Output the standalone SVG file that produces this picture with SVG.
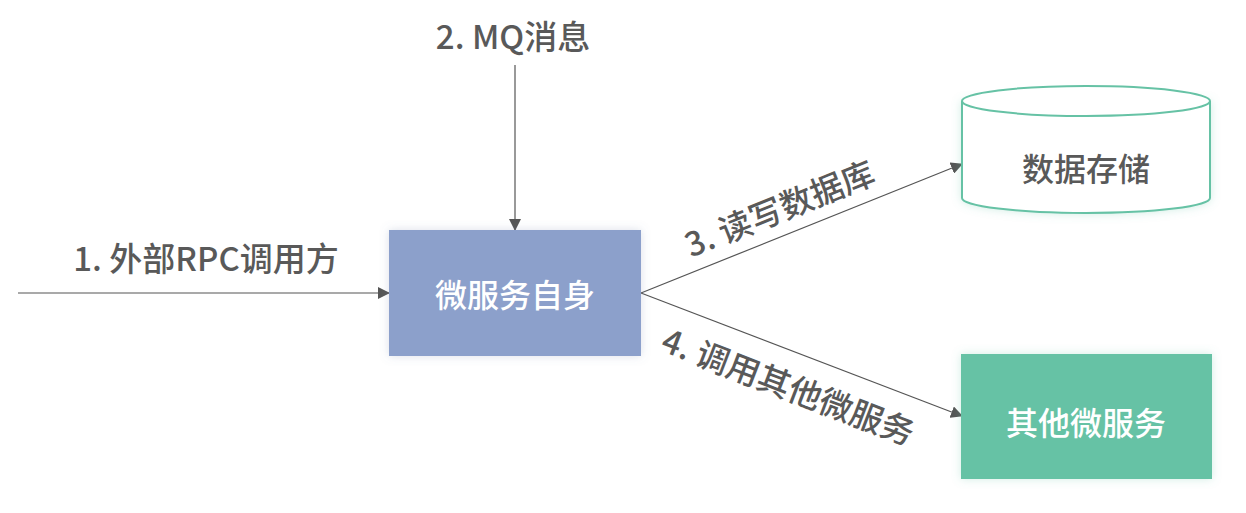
<svg xmlns="http://www.w3.org/2000/svg" width="1246" height="513" viewBox="0 0 1246 513">
<style>
text{font-family:"Noto Sans CJK SC","Noto Sans",sans-serif;dominant-baseline:central;text-anchor:middle;font-weight:500}
.lbl{font-size:33px;fill:#595959}
.node{font-size:32px}
.edge{stroke:#555;stroke-width:1.2;fill:none;marker-end:url(#arr)}
</style>
<defs>
<marker id="arr" viewBox="0 0 12 12" refX="11" refY="6" markerWidth="12" markerHeight="12" markerUnits="userSpaceOnUse" orient="auto">
<path d="M0,0 L12,6 L0,12 Z" fill="#555"/>
</marker>
<filter id="sh" x="-20%" y="-20%" width="140%" height="140%">
<feDropShadow dx="0" dy="0" stdDeviation="5" flood-color="#6d7fa8" flood-opacity="0.25"/>
</filter>
<filter id="shg" x="-20%" y="-20%" width="140%" height="140%">
<feDropShadow dx="0" dy="0" stdDeviation="5" flood-color="#66c2a5" flood-opacity="0.3"/>
</filter>
</defs>
<rect width="1246" height="513" fill="#fff"/>
<g id="connectors">
<line class="edge" x1="18" y1="293" x2="389" y2="293"/>
<line class="edge" x1="515" y1="65" x2="515" y2="230"/>
<line class="edge" x1="641" y1="293" x2="962" y2="164"/>
<line class="edge" x1="641" y1="293" x2="962" y2="416"/>
<text class="lbl" x="206" y="257">1. 外部RPC调用方</text>
<text class="lbl" x="513" y="35">2. MQ消息</text>
<text class="lbl" transform="translate(779,207) rotate(-22)">3. 读写数据库</text>
<text class="lbl" transform="translate(789,385) rotate(21)">4. 调用其他微服务</text>
</g>
<g id="self">
<rect x="389" y="230" width="252" height="126" fill="#8ca0cb" filter="url(#sh)"/>
<text class="node" x="515" y="293" fill="#fff">微服务自身</text>
</g>
<g id="db">
<path d="M962,101 L962,198 A124,15 0 0 0 1210,198 L1210,101" fill="#fff" stroke="#66c2a5" stroke-width="2" filter="url(#shg)"/>
<ellipse cx="1086" cy="101" rx="124" ry="15" fill="#fff" stroke="#66c2a5" stroke-width="2"/>
<text class="node" x="1086" y="167" fill="#595959">数据存储</text>
</g>
<g id="other">
<rect x="961" y="354" width="251" height="125" fill="#66c2a5" filter="url(#shg)"/>
<text class="node" x="1086" y="421" fill="#fff">其他微服务</text>
</g>
</svg>
